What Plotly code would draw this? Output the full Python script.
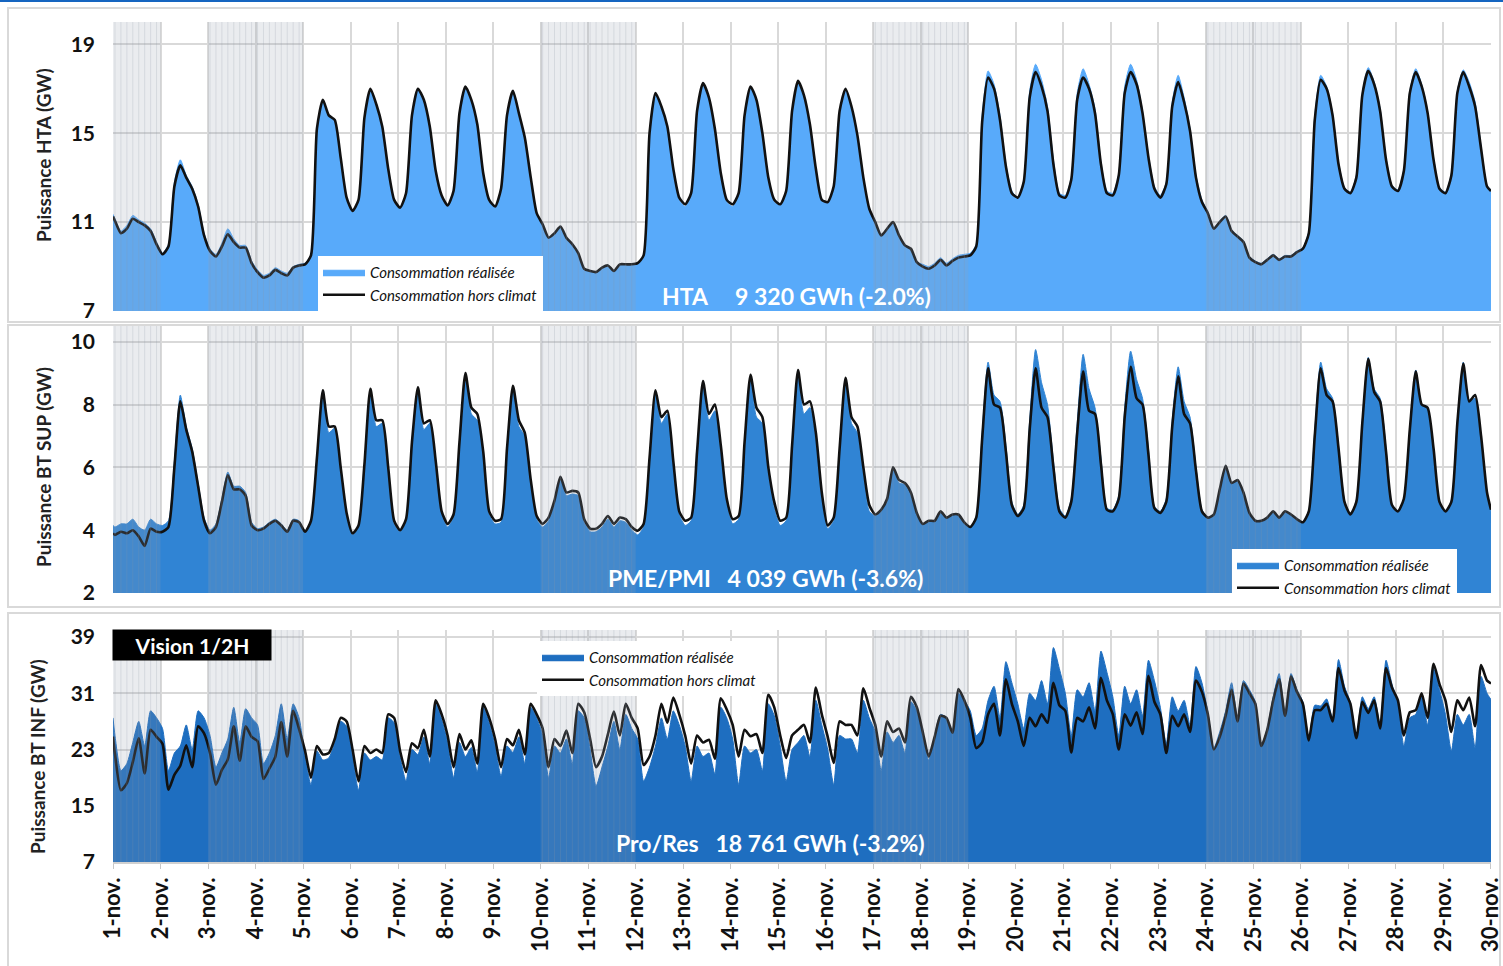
import plotly.graph_objects as go

# ---------------- data (half-hourly curves read at 3-hour steps) ----------------
HOURS = [1, 4, 7, 10, 13, 16, 19, 22]          # sampled hours of each day
N_DAYS = 29                                     # 1-nov 00h -> 30-nov 00h
DAY_TICKS = list(range(30))
DAY_LABELS = ["1-nov.", "2-nov.", "3-nov.", "4-nov.", "5-nov.", "6-nov.", "7-nov.", "8-nov.",
              "9-nov.", "10-nov.", "11-nov.", "12-nov.", "13-nov.", "14-nov.", "15-nov.",
              "16-nov.", "17-nov.", "18-nov.", "19-nov.", "20-nov.", "21-nov.", "22-nov.",
              "23-nov.", "24-nov.", "25-nov.", "26-nov.", "27-nov.", "28-nov.", "29-nov.", "30-nov."]
HOLIDAY_SPANS = [(0, 1), (2, 4), (9, 11), (16, 18), (23, 25)]   # week-ends / jours fériés

# HTA (GW)
HTA_REAL_EDGES = (11.35, 12.45)
HTA_REAL = [
    [11.15, 10.6, 10.85, 11.3, 11.1, 10.95, 10.7, 10.1],
    [9.6, 10.0, 12.8, 13.8, 13.1, 12.6, 11.8, 10.5],
    [9.8, 9.55, 10.05, 10.7, 10.25, 9.95, 9.95, 9.25],
    [8.85, 8.6, 8.7, 8.95, 8.8, 8.7, 9.0, 9.1],
    [9.15, 9.55, 15.2, 16.5, 15.8, 15.6, 13.9, 12.05],
    [11.45, 12.0, 15.7, 17.0, 16.3, 15.3, 13.4, 11.95],
    [11.6, 12.3, 15.8, 17.0, 16.5, 15.3, 13.3, 12.15],
    [11.7, 12.4, 15.9, 17.1, 16.5, 15.4, 13.2, 11.95],
    [11.65, 12.5, 15.8, 16.9, 15.9, 14.8, 13.0, 11.4],
    [10.9, 10.3, 10.5, 10.8, 10.3, 10.0, 9.6, 8.9],
    [8.8, 8.75, 8.95, 9.05, 8.8, 9.1, 9.1, 9.1],
    [9.15, 9.5, 15.0, 16.8, 16.2, 15.3, 13.4, 12.0],
    [11.7, 12.3, 16.0, 17.25, 16.6, 15.2, 13.2, 11.9],
    [11.7, 12.3, 15.8, 17.1, 16.5, 15.0, 13.0, 11.9],
    [11.75, 12.4, 16.0, 17.35, 16.7, 15.4, 13.4, 11.95],
    [11.85, 12.6, 16.0, 17.0, 16.2, 14.9, 13.0, 11.6],
    [11.0, 10.4, 10.7, 11.0, 10.4, 9.95, 9.8, 9.2],
    [9.1, 9.0, 9.15, 9.4, 9.15, 9.35, 9.5, 9.55],
    [9.6, 10.0, 15.8, 17.8, 17.2, 15.8, 13.6, 12.4],
    [12.1, 12.9, 16.9, 18.1, 17.4, 16.2, 13.8, 12.3],
    [12.2, 13.0, 16.8, 17.9, 17.2, 16.1, 13.7, 12.4],
    [12.3, 13.2, 17.1, 18.1, 17.4, 16.0, 14.0, 12.6],
    [12.2, 12.8, 16.4, 17.6, 16.6, 15.2, 13.1, 12.0],
    [11.45, 10.75, 11.05, 11.3, 10.65, 10.4, 10.15, 9.45],
    [9.25, 9.15, 9.35, 9.55, 9.35, 9.5, 9.5, 9.7],
    [9.85, 10.6, 15.8, 17.6, 17.1, 15.9, 13.7, 12.55],
    [12.35, 13.1, 16.8, 17.95, 17.3, 16.1, 13.9, 12.65],
    [12.45, 13.4, 16.9, 17.9, 17.2, 16.0, 13.9, 12.55],
    [12.35, 13.2, 16.9, 17.85, 17.3, 16.4, 14.4, 12.65],
]
HTA_HC_EDGES = (11.25, 12.4)
HTA_HC = [
    [11.05, 10.5, 10.7, 11.15, 11.0, 10.85, 10.6, 10.0],
    [9.55, 9.9, 12.6, 13.55, 13.0, 12.5, 11.7, 10.4],
    [9.7, 9.45, 9.9, 10.45, 10.1, 9.85, 9.85, 9.15],
    [8.75, 8.5, 8.6, 8.85, 8.7, 8.6, 8.95, 9.05],
    [9.1, 9.5, 15.2, 16.5, 15.8, 15.6, 13.9, 12.1],
    [11.5, 12.0, 15.7, 17.0, 16.3, 15.3, 13.4, 12.0],
    [11.65, 12.3, 15.8, 17.0, 16.5, 15.3, 13.3, 12.2],
    [11.75, 12.4, 15.9, 17.1, 16.5, 15.4, 13.2, 12.0],
    [11.7, 12.5, 15.8, 16.9, 15.9, 14.8, 13.0, 11.4],
    [10.9, 10.3, 10.5, 10.8, 10.3, 10.0, 9.6, 8.9],
    [8.8, 8.75, 8.95, 9.05, 8.8, 9.1, 9.1, 9.1],
    [9.15, 9.5, 15.0, 16.8, 16.2, 15.3, 13.4, 12.1],
    [11.8, 12.3, 16.0, 17.25, 16.6, 15.2, 13.2, 12.0],
    [11.8, 12.3, 15.8, 17.1, 16.5, 15.0, 13.0, 12.0],
    [11.8, 12.4, 16.0, 17.35, 16.7, 15.4, 13.4, 12.0],
    [11.9, 12.6, 16.0, 17.0, 16.2, 14.9, 13.0, 11.6],
    [11.0, 10.4, 10.7, 11.0, 10.4, 9.95, 9.8, 9.2],
    [9.0, 8.9, 9.05, 9.3, 9.05, 9.25, 9.4, 9.45],
    [9.5, 9.9, 15.5, 17.5, 17.0, 15.6, 13.5, 12.3],
    [12.1, 12.8, 16.6, 17.75, 17.1, 16.0, 13.6, 12.2],
    [12.1, 12.9, 16.5, 17.5, 17.0, 15.9, 13.6, 12.3],
    [12.2, 13.1, 16.8, 17.75, 17.2, 15.9, 13.9, 12.5],
    [12.1, 12.7, 16.2, 17.3, 16.4, 15.1, 13.0, 11.9],
    [11.4, 10.7, 11.0, 11.25, 10.6, 10.35, 10.1, 9.4],
    [9.2, 9.1, 9.3, 9.5, 9.3, 9.45, 9.45, 9.65],
    [9.8, 10.5, 15.6, 17.4, 17.0, 15.8, 13.6, 12.5],
    [12.3, 13.0, 16.7, 17.8, 17.2, 16.0, 13.8, 12.6],
    [12.4, 13.3, 16.8, 17.75, 17.1, 15.9, 13.8, 12.5],
    [12.3, 13.1, 16.8, 17.75, 17.1, 16.2, 14.3, 12.6],
]

# BT SUP - PME/PMI (GW)
SUP_REAL_EDGES = (4.15, 4.6)
SUP_REAL = [
    [4.1, 4.2, 4.2, 4.35, 4.1, 4.0, 4.35, 4.2],
    [4.15, 4.3, 6.2, 8.3, 7.3, 6.6, 5.5, 4.4],
    [4.0, 4.2, 5.0, 5.85, 5.4, 5.4, 5.2, 4.25],
    [4.05, 4.1, 4.25, 4.35, 4.2, 4.0, 4.35, 4.3],
    [3.9, 4.25, 6.2, 8.45, 7.1, 7.25, 5.9, 4.45],
    [3.85, 4.1, 6.0, 8.45, 7.3, 7.4, 5.9, 4.2],
    [3.95, 4.3, 6.7, 8.5, 7.2, 7.4, 6.1, 4.5],
    [4.1, 4.4, 6.7, 8.9, 7.7, 7.5, 6.4, 4.5],
    [4.2, 4.25, 6.5, 8.5, 7.3, 7.0, 5.5, 4.35],
    [4.1, 4.3, 4.85, 5.65, 5.1, 5.15, 5.1, 4.25],
    [3.95, 3.95, 4.1, 4.35, 4.1, 4.3, 4.25, 4.0],
    [3.85, 4.1, 6.2, 8.4, 7.4, 7.7, 6.1, 4.5],
    [4.15, 4.3, 6.4, 8.6, 7.5, 7.8, 6.5, 4.85],
    [4.2, 4.35, 6.6, 8.8, 7.6, 7.4, 5.8, 4.7],
    [4.15, 4.3, 6.5, 8.9, 7.7, 7.9, 6.9, 5.0],
    [4.05, 4.3, 6.4, 8.7, 7.4, 7.1, 5.8, 4.6],
    [4.45, 4.6, 4.95, 5.95, 5.5, 5.45, 5.1, 4.5],
    [4.2, 4.3, 4.3, 4.6, 4.4, 4.5, 4.5, 4.25],
    [4.1, 4.45, 7.1, 9.35, 8.3, 8.1, 6.7, 4.9],
    [4.5, 4.8, 7.5, 9.75, 8.7, 8.0, 6.2, 4.7],
    [4.45, 5.0, 7.4, 9.6, 8.5, 7.9, 6.3, 4.7],
    [4.65, 5.1, 7.9, 9.7, 8.8, 8.2, 6.6, 4.75],
    [4.6, 5.0, 7.5, 9.2, 8.1, 7.6, 6.0, 4.65],
    [4.4, 4.5, 5.3, 6.05, 5.5, 5.6, 5.2, 4.55],
    [4.3, 4.3, 4.4, 4.6, 4.4, 4.6, 4.5, 4.35],
    [4.25, 4.65, 7.2, 9.35, 8.5, 8.2, 6.7, 4.95],
    [4.5, 4.95, 7.5, 9.5, 8.5, 8.2, 6.6, 4.8],
    [4.6, 5.0, 7.25, 9.1, 8.0, 7.85, 6.55, 4.85],
    [4.6, 4.95, 7.5, 9.35, 8.1, 8.2, 6.9, 5.1],
]
SUP_HC_EDGES = (3.9, 4.65)
SUP_HC = [
    [3.85, 3.95, 3.9, 4.0, 3.8, 3.5, 4.05, 3.95],
    [3.95, 4.1, 6.0, 8.1, 7.2, 6.5, 5.4, 4.3],
    [3.9, 4.1, 4.9, 5.75, 5.3, 5.3, 5.1, 4.15],
    [4.0, 4.05, 4.2, 4.3, 4.15, 3.95, 4.3, 4.25],
    [3.95, 4.3, 6.3, 8.45, 7.3, 7.3, 6.0, 4.55],
    [3.9, 4.15, 6.1, 8.5, 7.5, 7.5, 6.0, 4.3],
    [4.0, 4.35, 6.8, 8.55, 7.4, 7.5, 6.2, 4.6],
    [4.2, 4.5, 6.8, 9.0, 7.9, 7.7, 6.5, 4.6],
    [4.3, 4.35, 6.6, 8.6, 7.5, 7.1, 5.6, 4.45],
    [4.2, 4.4, 4.95, 5.7, 5.2, 5.25, 5.2, 4.35],
    [4.05, 4.05, 4.2, 4.45, 4.2, 4.4, 4.35, 4.1],
    [3.98, 4.2, 6.3, 8.45, 7.6, 7.8, 6.2, 4.6],
    [4.3, 4.4, 6.5, 8.75, 7.7, 8.0, 6.7, 5.0],
    [4.35, 4.45, 6.8, 8.95, 7.9, 7.6, 6.0, 4.9],
    [4.3, 4.4, 6.7, 9.1, 8.0, 8.1, 7.1, 5.2],
    [4.15, 4.4, 6.6, 8.85, 7.6, 7.3, 6.0, 4.8],
    [4.5, 4.65, 5.0, 6.0, 5.6, 5.5, 5.2, 4.55],
    [4.2, 4.3, 4.3, 4.6, 4.4, 4.5, 4.5, 4.25],
    [4.1, 4.4, 6.9, 9.15, 8.0, 7.9, 6.5, 4.8],
    [4.45, 4.7, 7.2, 9.15, 7.9, 7.6, 6.0, 4.6],
    [4.4, 4.9, 7.1, 9.05, 7.8, 7.7, 6.1, 4.65],
    [4.6, 5.0, 7.6, 9.2, 8.2, 8.0, 6.4, 4.7],
    [4.55, 4.9, 7.3, 8.9, 7.7, 7.4, 5.9, 4.6],
    [4.4, 4.5, 5.3, 6.05, 5.5, 5.6, 5.2, 4.55],
    [4.3, 4.3, 4.4, 4.6, 4.4, 4.6, 4.5, 4.35],
    [4.25, 4.6, 7.0, 9.15, 8.3, 8.1, 6.6, 4.9],
    [4.5, 4.9, 7.4, 9.45, 8.4, 8.1, 6.5, 4.8],
    [4.6, 5.0, 7.2, 9.05, 8.0, 7.9, 6.6, 4.9],
    [4.6, 4.9, 7.4, 9.3, 8.1, 8.3, 7.0, 5.2],
]

# BT INF - Pro/Res (GW)
INF_REAL_EDGES = (27.5, 30.1)
INF_REAL = [
    [25.0, 20.0, 21.0, 24.0, 27.0, 23.5, 28.5, 27.5],
    [26.0, 20.0, 22.5, 23.5, 26.5, 23.0, 28.5, 27.5],
    [25.0, 20.5, 22.5, 24.5, 29.0, 24.0, 28.8, 27.5],
    [26.5, 21.0, 22.5, 25.0, 29.5, 24.5, 29.5, 27.5],
    [22.0, 18.0, 22.8, 21.5, 21.8, 24.0, 27.0, 26.3],
    [22.0, 17.2, 22.5, 21.5, 22.0, 21.5, 27.5, 26.8],
    [22.0, 18.5, 23.0, 22.3, 24.8, 21.0, 29.5, 27.3],
    [24.0, 19.0, 24.0, 22.0, 23.3, 19.8, 29.0, 26.8],
    [23.5, 19.2, 23.5, 22.6, 24.8, 21.0, 29.0, 27.5],
    [25.0, 19.0, 23.5, 22.5, 24.5, 21.0, 28.5, 27.5],
    [23.0, 17.8, 20.5, 23.5, 27.0, 23.0, 28.0, 26.0],
    [24.5, 18.5, 20.5, 23.5, 27.5, 24.5, 28.5, 26.5],
    [23.5, 18.5, 23.5, 22.0, 22.5, 19.5, 29.0, 27.5],
    [24.5, 18.0, 23.5, 22.5, 23.0, 20.0, 29.5, 27.8],
    [23.5, 18.5, 23.0, 24.0, 25.0, 22.0, 30.0, 26.5],
    [23.0, 18.0, 25.0, 24.5, 24.5, 22.5, 30.0, 27.5],
    [25.5, 20.0, 25.5, 24.0, 25.0, 22.5, 29.8, 28.5],
    [25.0, 21.5, 25.0, 28.0, 27.5, 25.5, 31.0, 30.0],
    [28.5, 25.0, 26.0, 30.0, 32.0, 27.5, 35.5, 32.5],
    [29.5, 26.0, 31.0, 30.0, 32.8, 29.5, 37.5, 34.5],
    [31.0, 25.0, 31.5, 30.5, 32.5, 28.5, 37.0, 34.0],
    [30.5, 25.0, 32.0, 29.5, 31.5, 27.8, 35.7, 32.8],
    [29.0, 23.8, 30.5, 28.5, 30.0, 26.5, 34.8, 32.5],
    [28.3, 23.2, 25.5, 28.5, 32.5, 27.5, 32.8, 31.5],
    [29.8, 23.5, 26.0, 30.5, 33.8, 28.0, 33.8, 31.5],
    [29.8, 24.5, 29.3, 29.2, 30.2, 27.4, 35.8, 32.0],
    [29.7, 24.8, 30.5, 28.8, 30.5, 26.5, 35.7, 32.3],
    [29.5, 23.5, 27.5, 28.0, 30.5, 26.5, 34.5, 31.5],
    [28.0, 22.8, 28.0, 26.5, 28.0, 23.2, 33.4, 31.0],
]
INF_HC_EDGES = (24.85, 32.4)
INF_HC = [
    [22.3, 17.2, 18.2, 21.2, 24.6, 19.6, 25.8, 24.8],
    [23.8, 17.3, 19.4, 20.7, 23.6, 20.5, 26.3, 25.3],
    [22.5, 18.0, 20.1, 21.6, 26.3, 21.4, 26.3, 24.8],
    [24.2, 18.8, 20.3, 22.0, 26.9, 22.0, 28.5, 25.9],
    [22.8, 19.0, 23.5, 22.3, 22.5, 24.5, 27.5, 27.0],
    [23.0, 18.5, 23.5, 22.5, 23.0, 22.5, 28.0, 27.5],
    [22.8, 19.8, 23.9, 23.2, 25.8, 22.0, 30.0, 28.0],
    [25.0, 20.5, 25.2, 23.0, 24.3, 21.0, 29.5, 27.5],
    [24.5, 20.5, 24.5, 23.6, 25.8, 22.3, 29.5, 28.0],
    [26.0, 20.5, 24.5, 23.5, 25.7, 22.5, 29.5, 28.3],
    [24.5, 20.5, 22.0, 25.2, 28.4, 25.0, 29.5, 27.5],
    [26.0, 20.8, 22.0, 25.0, 29.5, 26.8, 30.4, 28.0],
    [25.0, 21.0, 25.0, 24.0, 24.4, 21.7, 30.3, 28.7],
    [26.5, 22.0, 25.8, 24.9, 25.2, 22.5, 30.8, 29.0],
    [25.0, 21.8, 25.0, 25.8, 26.5, 24.0, 31.8, 28.0],
    [24.8, 21.1, 27.0, 26.5, 26.5, 25.0, 31.7, 29.0],
    [26.5, 22.0, 27.0, 25.5, 26.0, 24.0, 30.5, 29.0],
    [25.5, 22.0, 24.8, 27.8, 27.5, 25.4, 31.6, 30.0],
    [27.5, 23.2, 24.0, 28.0, 29.5, 25.0, 33.0, 29.5],
    [27.0, 23.5, 27.5, 26.3, 28.0, 26.8, 32.5, 29.3],
    [28.5, 22.6, 27.5, 27.0, 29.0, 26.0, 33.2, 30.0],
    [28.0, 23.0, 28.0, 26.4, 28.3, 25.2, 33.5, 29.8],
    [28.0, 22.5, 27.8, 26.3, 28.0, 25.5, 32.8, 31.2],
    [28.0, 23.0, 24.8, 27.8, 31.5, 27.0, 32.4, 31.0],
    [29.5, 23.5, 25.8, 30.0, 33.0, 27.8, 33.4, 31.2],
    [29.5, 24.3, 28.6, 28.6, 29.5, 27.0, 34.6, 31.4],
    [29.5, 24.6, 29.8, 28.2, 30.0, 26.0, 34.6, 31.8],
    [30.0, 25.0, 28.3, 28.6, 31.0, 27.5, 35.2, 32.3],
    [30.0, 25.5, 30.0, 28.6, 30.4, 26.3, 35.0, 32.8],
]

LEGEND_NAMES = ["Consommation réalisée", "Consommation hors climat"]
PANEL_TITLES = ["Puissance HTA (GW)", "Puissance BT SUP (GW)", "Puissance BT INF (GW)"]
PANEL_LABELS = ["HTA\u00a0\u00a0\u00a0\u00a0 9\u00a0320 GWh (-2.0%)",
                "PME/PMI\u00a0\u00a0 4\u00a0039 GWh (-3.6%)",
                "Pro/Res\u00a0\u00a0 18\u00a0761 GWh (-3.2%)"]
Y_TICKS = [[7, 11, 15, 19], [2, 4, 6, 8, 10], [7, 15, 23, 31, 39]]

# ---------------- build ----------------
def build_series(edges, days):
    vals = [edges[0]]
    for day in days:
        vals.extend(day)
    vals.append(edges[1])
    return vals

T = [0.0] + [d + h / 24 for d in range(N_DAYS) for h in HOURS] + [float(N_DAYS)]

FONT = "Lato"
W, H = 1503, 966
L, R, TOP, BOT = 113, 12, 22, 104
PW, PH = W - L - R, H - TOP - BOT


def px_x(px):
    return (px - L) / PW


def px_y(py):
    return (H - BOT - py) / PH


panels = [
    dict(real=build_series(HTA_REAL_EDGES, HTA_REAL), hc=build_series(HTA_HC_EDGES, HTA_HC),
         color="#58aafa", yr=[7, 20], dom=[px_y(311), 1.0], legend="legend",
         leg_xy=(px_x(318), px_y(256)), label_xy=(px_x(796), px_y(296)), title_xy=(px_x(43), px_y(155))),
    dict(real=build_series(SUP_REAL_EDGES, SUP_REAL), hc=build_series(SUP_HC_EDGES, SUP_HC),
         color="#3084d4", yr=[2, 10.5], dom=[px_y(593), px_y(326)], legend="legend2",
         leg_xy=(px_x(1232), px_y(549)), label_xy=(px_x(765), px_y(578)), title_xy=(px_x(43), px_y(467))),
    dict(real=build_series(INF_REAL_EDGES, INF_REAL), hc=build_series(INF_HC_EDGES, INF_HC),
         color="#1e6ec0", yr=[7, 40], dom=[0.0, px_y(630)], legend="legend3",
         leg_xy=(px_x(537), px_y(641)), label_xy=(px_x(770), px_y(843)), title_xy=(px_x(37), px_y(757))),
]

fig = go.Figure()
shapes, annotations = [], []
layout = dict(width=W, height=H, margin=dict(l=L, r=R, t=TOP, b=BOT, autoexpand=False),
              paper_bgcolor="white", plot_bgcolor="white", showlegend=True,
              font=dict(family=FONT, color="#111111"))

for i, p in enumerate(panels):
    n = "" if i == 0 else str(i + 1)
    xa, ya = "x" + n, "y" + n
    fig.add_trace(go.Scatter(x=T, y=p["real"], xaxis=xa, yaxis=ya, mode="lines", fill="tozeroy",
                             fillcolor=p["color"], line=dict(color=p["color"], width=1, shape="spline", smoothing=0.6),
                             name=LEGEND_NAMES[0], legend=p["legend"], hoverinfo="skip"))
    fig.add_trace(go.Scatter(x=T, y=p["hc"], xaxis=xa, yaxis=ya, mode="lines",
                             line=dict(color="#111111", width=2.6, shape="spline", smoothing=0.6),
                             name=LEGEND_NAMES[1], legend=p["legend"], hoverinfo="skip"))
    bottom = (i == 2)
    layout["xaxis" + n] = dict(domain=[0, 1], anchor=ya, range=[0, N_DAYS + 0.0005], tickvals=DAY_TICKS,
                               ticktext=DAY_LABELS, showticklabels=bottom, tickangle=-90,
                               ticklabeloverflow="allow", automargin=False,
                               ticks="outside" if bottom else "", ticklen=5, tickcolor="#c8c8c8",
                               tickfont=dict(family=FONT, size=22, color="#111111", weight=700),
                               showgrid=True, gridcolor="#d9d9d9", gridwidth=1.5, zeroline=False,
                               showline=bottom, linecolor="#d0d0d0", linewidth=1.5)
    layout["yaxis" + n] = dict(domain=p["dom"], anchor=xa, range=p["yr"], tickvals=Y_TICKS[i],
                               automargin=False,
                               tickfont=dict(family=FONT, size=21, color="#111111", weight=700),
                               ticklabelstandoff=17, showgrid=True, gridcolor="#d9d9d9", gridwidth=1.5,
                               zeroline=False, showline=False)
    layout[p["legend"]] = dict(x=p["leg_xy"][0], y=p["leg_xy"][1], xanchor="left", yanchor="top",
                               bgcolor="white", borderwidth=0, tracegroupgap=0, itemwidth=42,
                               font=dict(family=FONT, size=15, color="#111111", style="italic"))
    # holiday / week-end shading
    for a, b in HOLIDAY_SPANS:
        shapes.append(dict(type="rect", xref=xa, yref=ya + " domain", x0=a, x1=b, y0=0, y1=1,
                           fillcolor="rgba(150,160,175,0.2)", line=dict(width=0), layer="above"))
        for t in T:
            if a < t < b:
                shapes.append(dict(type="line", xref=xa, yref=ya + " domain", x0=t, x1=t, y0=0, y1=1,
                                   line=dict(color="rgba(140,150,165,0.22)", width=1), layer="above"))
    annotations.append(dict(text=PANEL_LABELS[i], x=p["label_xy"][0], y=p["label_xy"][1], xref="paper",
                            yref="paper", xanchor="center", yanchor="middle", showarrow=False,
                            font=dict(family=FONT, size=23, color="white", weight=700)))
    annotations.append(dict(text=PANEL_TITLES[i], x=p["title_xy"][0], y=p["title_xy"][1], xref="paper",
                            yref="paper", xanchor="center", yanchor="middle", showarrow=False, textangle=-90,
                            font=dict(family=FONT, size=19, color="#222222", weight=700)))

# panel frames and top rule
for y_top, y_bot in [(8, 322), (325, 607), (613, 990)]:
    shapes.append(dict(type="rect", xref="paper", yref="paper", x0=px_x(8), x1=px_x(1500),
                       y0=px_y(y_bot), y1=px_y(y_top), line=dict(color="#d9d9d9", width=2),
                       fillcolor="rgba(0,0,0,0)", layer="below"))
shapes.append(dict(type="line", xref="paper", yref="paper", x0=px_x(0), x1=px_x(1503), y0=px_y(1), y1=px_y(1),
                   line=dict(color="#1565c0", width=2)))

annotations.append(dict(text="Vision 1/2H", x=px_x(192), y=px_y(645), xref="paper", yref="paper",
                        xanchor="center", yanchor="middle", showarrow=False, bgcolor="black",
                        width=152, height=24, borderpad=3,
                        font=dict(family=FONT, size=21, color="white", weight=700)))

layout["shapes"] = shapes
layout["annotations"] = annotations
fig.update_layout(**layout)
fig.write_html("out.html", config={"displayModeBar": False},
               post_script="document.body.style.margin='0px';")
